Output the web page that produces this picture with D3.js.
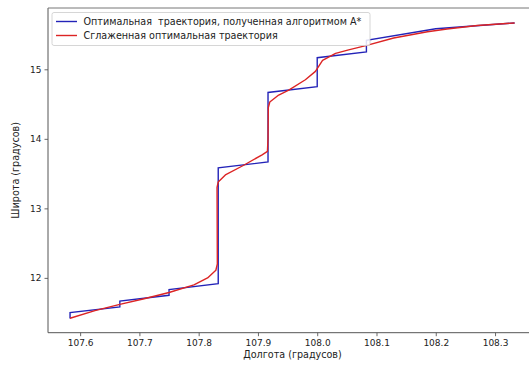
<!DOCTYPE html>
<html><head><meta charset="utf-8">
<script src="https://cdn.jsdelivr.net/npm/d3@7"></script>
<style>body{margin:0;background:#fff}svg{display:block;font-family:"DejaVu Sans",sans-serif}</style>
</head><body>
<script>
// A* path (blue)
const astarLon = [107.583,107.583,107.667,107.667,107.75,107.75,107.833,107.833,107.917,107.917,108.0,108.0,108.083,108.083,108.2,108.333];
const astarLat = [11.417,11.5,11.583,11.667,11.75,11.833,11.917,13.583,13.667,14.667,14.75,15.167,15.25,15.417,15.583,15.667];
// Smoothed path (red)
const smoothLon = [107.583,107.625,107.667,107.708,107.75,107.792,107.815,107.829,107.8315,107.831,107.833,107.845,107.876,107.907,107.916,107.917,107.9175,107.92,107.935,107.952,107.98,107.997,108.009,108.031,108.053,108.082,108.129,108.186,108.219,108.27,108.333];
const smoothLat = [11.42,11.53,11.62,11.70,11.79,11.90,12.0,12.11,12.2,13.30,13.38,13.48,13.62,13.77,13.82,14.0,14.45,14.53,14.63,14.70,14.85,14.97,15.13,15.23,15.28,15.34,15.45,15.54,15.58,15.63,15.667];
const xTicks = [107.6,107.7,107.8,107.9,108.0,108.1,108.2,108.3];
const yTicks = [12,13,14,15];
const legendLabels = ["Оптимальная  траектория, полученная алгоритмом А*","Сглаженная оптимальная траектория"];
const xLabel = "Долгота (градусов)", yLabel = "Широта (градусов)";

const W=529,H=365;
const m={l:48,t:8,r:537,b:332.7};
const svg=d3.select("body").append("svg").attr("width",W).attr("height",H);
const x=d3.scaleLinear().domain([107.5458,108.3708]).range([m.l,m.r]);
const y=d3.scaleLinear().domain([11.2117,15.8817]).range([m.b,m.t]);

const fs=9.6, tfs=9, col="#222";
const xa=svg.append("g").attr("transform",`translate(0,${m.b})`)
  .call(d3.axisBottom(x).tickValues(xTicks).tickFormat(d3.format(".1f")).tickSize(3.5).tickPadding(3));
const ya=svg.append("g").attr("transform",`translate(${m.l},0)`)
  .call(d3.axisLeft(y).tickValues(yTicks).tickFormat(d3.format("d")).tickSize(3.5).tickPadding(3));
[xa,ya].forEach(a=>{a.select(".domain").remove();a.selectAll("line").attr("stroke","#444").attr("stroke-width",0.8);
  a.selectAll("text").attr("font-size",tfs).attr("fill",col).attr("font-family","DejaVu Sans");});
// spines
svg.append("line").attr("x1",m.l).attr("x2",m.l).attr("y1",m.t).attr("y2",m.b).attr("stroke","#555").attr("stroke-width",1);
svg.append("line").attr("x1",m.l).attr("x2",m.r).attr("y1",m.b).attr("y2",m.b).attr("stroke","#555").attr("stroke-width",1);
svg.append("line").attr("x1",m.l).attr("x2",m.r).attr("y1",m.t).attr("y2",m.t).attr("stroke","#777").attr("stroke-width",1);

const line=d3.line().x(d=>x(d[0])).y(d=>y(d[1]));
svg.append("path").datum(astarLon.map((v,i)=>[v,astarLat[i]])).attr("d",line)
  .attr("fill","none").attr("stroke","#2323b8").attr("stroke-width",1.4);
svg.append("path").datum(smoothLon.map((v,i)=>[v,smoothLat[i]])).attr("d",line)
  .attr("fill","none").attr("stroke","#dc2424").attr("stroke-width",1.4).attr("stroke-linejoin","round");

// legend
const lg=svg.append("g");
lg.append("rect").attr("x",52).attr("y",12.5).attr("width",318).attr("height",33).attr("rx",2)
  .attr("fill","#fff").attr("fill-opacity",0.85).attr("stroke","#ccc").attr("stroke-width",0.8);
const lc=["#2323b8","#dc2424"];
legendLabels.forEach((t,i)=>{
  const yy=21.5+i*14;
  lg.append("line").attr("x1",56).attr("x2",77).attr("y1",yy).attr("y2",yy).attr("stroke",lc[i]).attr("stroke-width",1.4);
  lg.append("text").attr("x",83.5).attr("y",yy+3.4).attr("font-size",fs).attr("fill",col).attr("xml:space","preserve").style("white-space","pre").text(t);
});
svg.append("text").attr("x",(m.l+m.r)/2).attr("y",358).attr("text-anchor","middle").attr("font-size",fs).attr("fill",col).text(xLabel);
svg.append("text").attr("transform",`translate(19,${(m.t+m.b)/2}) rotate(-90)`).attr("text-anchor","middle").attr("font-size",fs).attr("fill",col).text(yLabel);
</script>
</body></html>
